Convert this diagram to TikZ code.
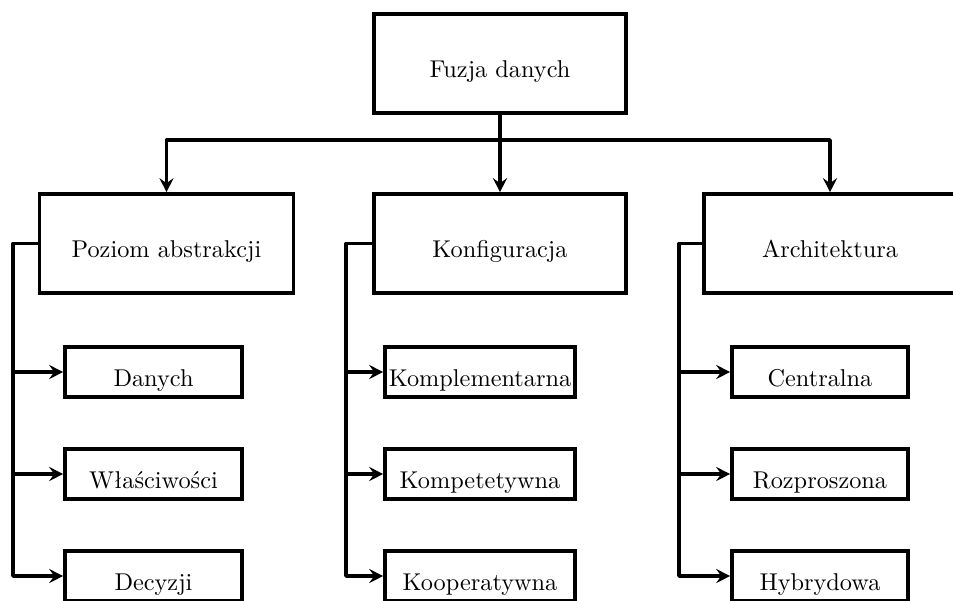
\documentclass[tikz,border=0pt]{standalone}
\usepackage{graphicx}
\usetikzlibrary{arrows.meta}
\newcommand\tx[1]{\scalebox{2.43}{#1}}
\tikzset{
  box/.style={draw, line width=3.6pt, inner sep=3pt, text height=28pt, text depth=0pt, align=center},
  bigbox/.style={box, minimum width=252pt, minimum height=99pt},
  smallbox/.style={box, minimum width=177pt, minimum height=50pt},
  conn/.style={line width=3.6pt, line join=round},
  arr/.style={conn, -{Stealth[length=14pt, width=14pt, inset=5pt]}},
}
\begin{document}
\begin{tikzpicture}[x=1pt, y=-1pt]
\useasboundingbox (0,0) rectangle (953,600);
\clip (0,0) rectangle (953,600);
% top
\node[bigbox] (top) at (500,63.5) {\tx{Fuzja danych}};
% level 2
\node[bigbox, minimum width=254pt] (P) at (166.5,243.5) {\tx{Poziom abstrakcji}};
\node[bigbox] (K) at (500,243.5) {\tx{Konfiguracja}};
\node[bigbox] (A) at (830,243.5) {\tx{Architektura}};
% children P
\node[smallbox] (P1) at (153.5,372) {\tx{Danych}};
\node[smallbox] (P2) at (153.5,474) {\tx{Właściwości}};
\node[smallbox] (P3) at (153.5,576) {\tx{Decyzji}};
% children K
\node[smallbox, minimum width=190pt] (K1) at (480,372) {\tx{Komplementarna}};
\node[smallbox, minimum width=190pt] (K2) at (480,474) {\tx{Kompetetywna}};
\node[smallbox, minimum width=190pt] (K3) at (480,576) {\tx{Kooperatywna}};
% children A
\node[smallbox, minimum width=176pt] (A1) at (820,372) {\tx{Centralna}};
\node[smallbox, minimum width=176pt] (A2) at (820,474) {\tx{Rozproszona}};
\node[smallbox, minimum width=176pt] (A3) at (820,576) {\tx{Hybrydowa}};
% top connectors
\coordinate (j) at (500,140);
\draw[conn] (top.south) -- (j);
\draw[arr] (j) -| (P.north);
\draw[arr] (j) -- (K.north);
\draw[arr] (j) -| (A.north);
% left rails
\coordinate (pl) at (13,243.5);
\coordinate (kl) at (346,243.5);
\coordinate (al) at (679,243.5);
\draw[arr] (P.west) -- (pl) |- (P3.west);
\draw[arr] (pl |- P1.west) -- (P1.west);
\draw[arr] (pl |- P2.west) -- (P2.west);
\draw[arr] (K.west) -- (kl) |- (K3.west);
\draw[arr] (kl |- K1.west) -- (K1.west);
\draw[arr] (kl |- K2.west) -- (K2.west);
\draw[arr] (A.west) -- (al) |- (A3.west);
\draw[arr] (al |- A1.west) -- (A1.west);
\draw[arr] (al |- A2.west) -- (A2.west);
\end{tikzpicture}
\end{document}
